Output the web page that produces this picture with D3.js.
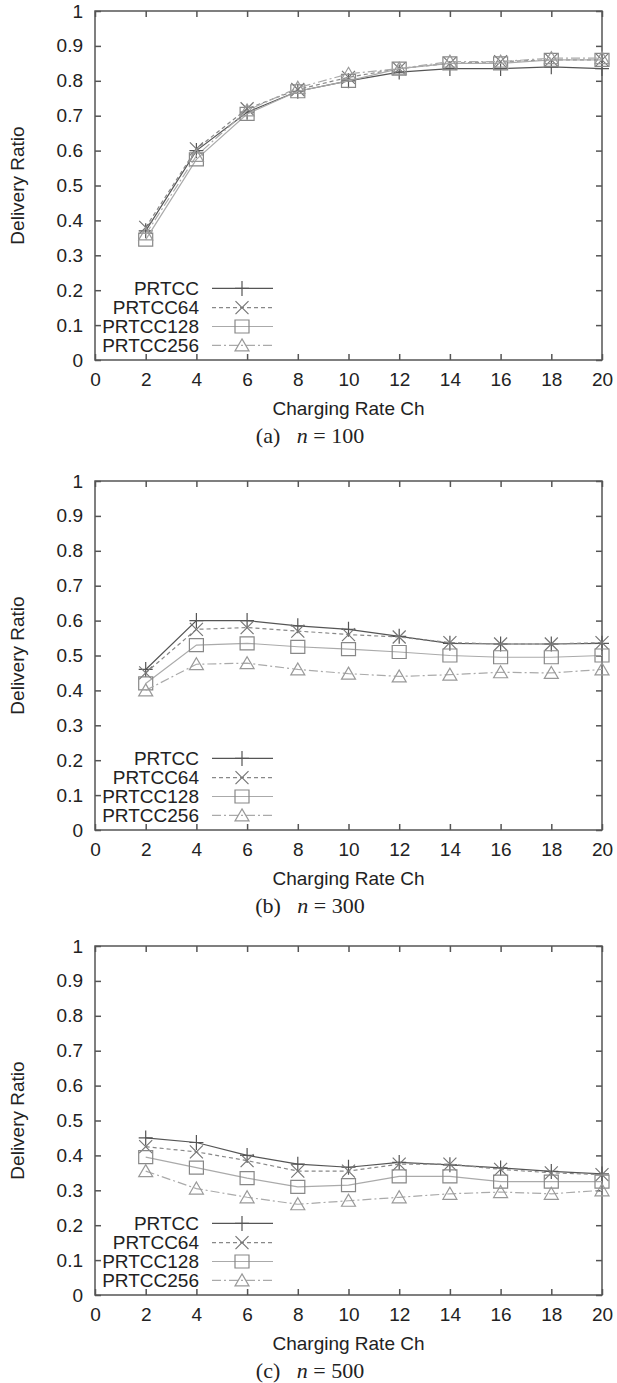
<!DOCTYPE html>
<html>
<head>
<meta charset="utf-8">
<script src="https://cdn.jsdelivr.net/npm/d3@7"></script>
<style>
  body { margin: 0; background: #fff; }
  svg text { font-family: 'Liberation Sans', Arial, sans-serif; fill: #222; }
  .caption text, text.caption { font-family: 'Liberation Serif', 'Times New Roman', serif; }
</style>
</head>
<body>
<svg id="chart" width="617" height="1383"></svg>
<script>
// Charging rate on x, delivery ratio on y
const chargingRates = [2, 4, 6, 8, 10, 12, 14, 16, 18, 20]
const xTicks = [0, 2, 4, 6, 8, 10, 12, 14, 16, 18, 20]
const yTicks = [0, 0.1, 0.2, 0.3, 0.4, 0.5, 0.6, 0.7, 0.8, 0.9, 1]
const seriesNames = ['PRTCC', 'PRTCC64', 'PRTCC128', 'PRTCC256']
const captions = ['(a)', '(b)', '(c)']
const nodeCounts = ['100', '300', '500']

// (a) n = 100
const prtccN100 = [0.37, 0.60, 0.71, 0.77, 0.80, 0.825, 0.835, 0.835, 0.84, 0.835]
const prtcc64N100 = [0.38, 0.605, 0.72, 0.775, 0.81, 0.835, 0.85, 0.855, 0.86, 0.86]
const prtcc128N100 = [0.345, 0.575, 0.705, 0.77, 0.80, 0.835, 0.85, 0.85, 0.86, 0.86]
const prtcc256N100 = [0.36, 0.585, 0.715, 0.78, 0.82, 0.835, 0.855, 0.855, 0.865, 0.865]

// (b) n = 300
const prtccN300 = [0.46, 0.60, 0.60, 0.585, 0.575, 0.555, 0.535, 0.533, 0.533, 0.535]
const prtcc64N300 = [0.45, 0.575, 0.58, 0.57, 0.56, 0.553, 0.537, 0.533, 0.533, 0.537]
const prtcc128N300 = [0.42, 0.53, 0.535, 0.525, 0.518, 0.51, 0.50, 0.495, 0.495, 0.50]
const prtcc256N300 = [0.40, 0.475, 0.478, 0.46, 0.448, 0.44, 0.445, 0.452, 0.45, 0.46]

// (c) n = 500
const prtccN500 = [0.45, 0.437, 0.40, 0.375, 0.366, 0.38, 0.373, 0.364, 0.354, 0.347]
const prtcc64N500 = [0.425, 0.41, 0.385, 0.355, 0.355, 0.375, 0.375, 0.36, 0.35, 0.345]
const prtcc128N500 = [0.395, 0.365, 0.335, 0.31, 0.315, 0.34, 0.34, 0.325, 0.325, 0.325]
const prtcc256N500 = [0.355, 0.305, 0.28, 0.26, 0.27, 0.28, 0.29, 0.295, 0.29, 0.30]

const panelValues = [
  [prtccN100, prtcc64N100, prtcc128N100, prtcc256N100],
  [prtccN300, prtcc64N300, prtcc128N300, prtcc256N300],
  [prtccN500, prtcc64N500, prtcc128N500, prtcc256N500]
]

// styles per series (gnuplot mono look)
const styles = [
  { line: '#555', mark: '#555', dash: null, symbol: 'plus' },
  { line: '#888', mark: '#777', dash: '4,3', symbol: 'cross' },
  { line: '#aaa', mark: '#888', dash: null, symbol: 'square' },
  { line: '#aaa', mark: '#999', dash: '9,3,2,3', symbol: 'triangle' }
]

function markerPath (type) {
  let p = d3.path()
  if (type === 'plus') {
    p.moveTo(-7, 0); p.lineTo(7, 0); p.moveTo(0, -7.5); p.lineTo(0, 7.5)
  } else if (type === 'cross') {
    p.moveTo(-6.5, -6.5); p.lineTo(6.5, 6.5); p.moveTo(-6.5, 6.5); p.lineTo(6.5, -6.5)
  } else if (type === 'square') {
    p.rect(-7, -6.5, 14, 13)
  } else {
    p.moveTo(0, -6.5); p.lineTo(7, 5.5); p.lineTo(-7, 5.5); p.closePath()
  }
  return p.toString()
}

const svg = d3.select('#chart')
const left = 95
const right = 602
const plotH = 349
const tops = [11, 481, 946]

const x = d3.scaleLinear().domain([0, 20]).range([left, right])

panelValues.forEach((values, pi) => {
  let top = tops[pi]
  let bottom = top + plotH
  let y = d3.scaleLinear().domain([0, 1]).range([bottom, top])
  let g = svg.append('g')

  // axes with inward ticks
  let bx = g.append('g').attr('transform', `translate(0,${bottom})`)
    .call(d3.axisBottom(x).tickValues(xTicks).tickSizeInner(-6).tickSizeOuter(0).tickPadding(13))
  let tx = g.append('g').attr('transform', `translate(0,${top})`)
    .call(d3.axisTop(x).tickValues(xTicks).tickSizeInner(-6).tickSizeOuter(0).tickFormat(''))
  let ly = g.append('g').attr('transform', `translate(${left},0)`)
    .call(d3.axisLeft(y).tickValues(yTicks).tickSizeInner(-6).tickSizeOuter(0).tickPadding(12).tickFormat(d => String(d)))
  let ry = g.append('g').attr('transform', `translate(${right},0)`)
    .call(d3.axisRight(y).tickValues(yTicks).tickSizeInner(-6).tickSizeOuter(0).tickFormat(''))

  ;[bx, tx, ly, ry].forEach(a => {
    a.select('.domain').remove()
    a.selectAll('.tick line').attr('stroke', '#555').attr('stroke-width', 1.5)
    a.selectAll('.tick text').attr('font-size', 19).attr('fill', '#222')
      .attr('font-family', "'Liberation Sans', Arial, sans-serif")
  })

  g.append('rect')
    .attr('x', left).attr('y', top)
    .attr('width', right - left).attr('height', plotH)
    .attr('fill', 'none').attr('stroke', '#555').attr('stroke-width', 1.5)

  // lines + markers
  let line = d3.line().x((d, i) => x(chargingRates[i])).y(d => y(d))
  values.forEach((vals, si) => {
    let st = styles[si]
    g.append('path').datum(vals)
      .attr('d', line)
      .attr('fill', 'none')
      .attr('stroke', st.line)
      .attr('stroke-width', 1.2)
      .attr('stroke-dasharray', st.dash)
    g.selectAll(null).data(vals).join('path')
      .attr('transform', (d, i) => `translate(${x(chargingRates[i])},${y(d)})`)
      .attr('d', markerPath(st.symbol))
      .attr('fill', 'none')
      .attr('stroke', st.mark)
      .attr('stroke-width', 1.2)
  })

  // legend, bottom-left inside the frame
  let legendRows = [0.205, 0.15, 0.096, 0.042]
  seriesNames.forEach((name, si) => {
    let st = styles[si]
    let ry0 = y(legendRows[si])
    g.append('text')
      .attr('x', 199).attr('y', ry0)
      .attr('text-anchor', 'end')
      .attr('dominant-baseline', 'central')
      .attr('font-size', 19)
      .text(name)
    g.append('line')
      .attr('x1', 212).attr('x2', 273)
      .attr('y1', ry0).attr('y2', ry0)
      .attr('stroke', st.line)
      .attr('stroke-width', 1.2)
      .attr('stroke-dasharray', st.dash)
    g.append('path')
      .attr('transform', `translate(242,${ry0})`)
      .attr('d', markerPath(st.symbol))
      .attr('fill', 'none')
      .attr('stroke', st.mark)
      .attr('stroke-width', 1.2)
  })

  // axis titles
  g.append('text')
    .attr('transform', `translate(17,${(top + bottom) / 2}) rotate(-90)`)
    .attr('text-anchor', 'middle')
    .attr('dominant-baseline', 'central')
    .attr('font-size', 19)
    .text('Delivery Ratio')
  g.append('text')
    .attr('x', (left + right) / 2).attr('y', bottom + 48)
    .attr('text-anchor', 'middle')
    .attr('dominant-baseline', 'central')
    .attr('font-size', 19)
    .text('Charging Rate Ch')

  // caption
  let cap = g.append('text')
    .attr('class', 'caption')
    .attr('x', 310).attr('y', bottom + 75)
    .attr('text-anchor', 'middle')
    .attr('dominant-baseline', 'central')
    .attr('font-size', 22)
    .attr('fill', '#111')
  cap.append('tspan').text(captions[pi] + '\u00a0\u00a0\u00a0')
  cap.append('tspan').attr('font-style', 'italic').text('n')
  cap.append('tspan').text(' = ' + nodeCounts[pi])
})
</script>
</body>
</html>
